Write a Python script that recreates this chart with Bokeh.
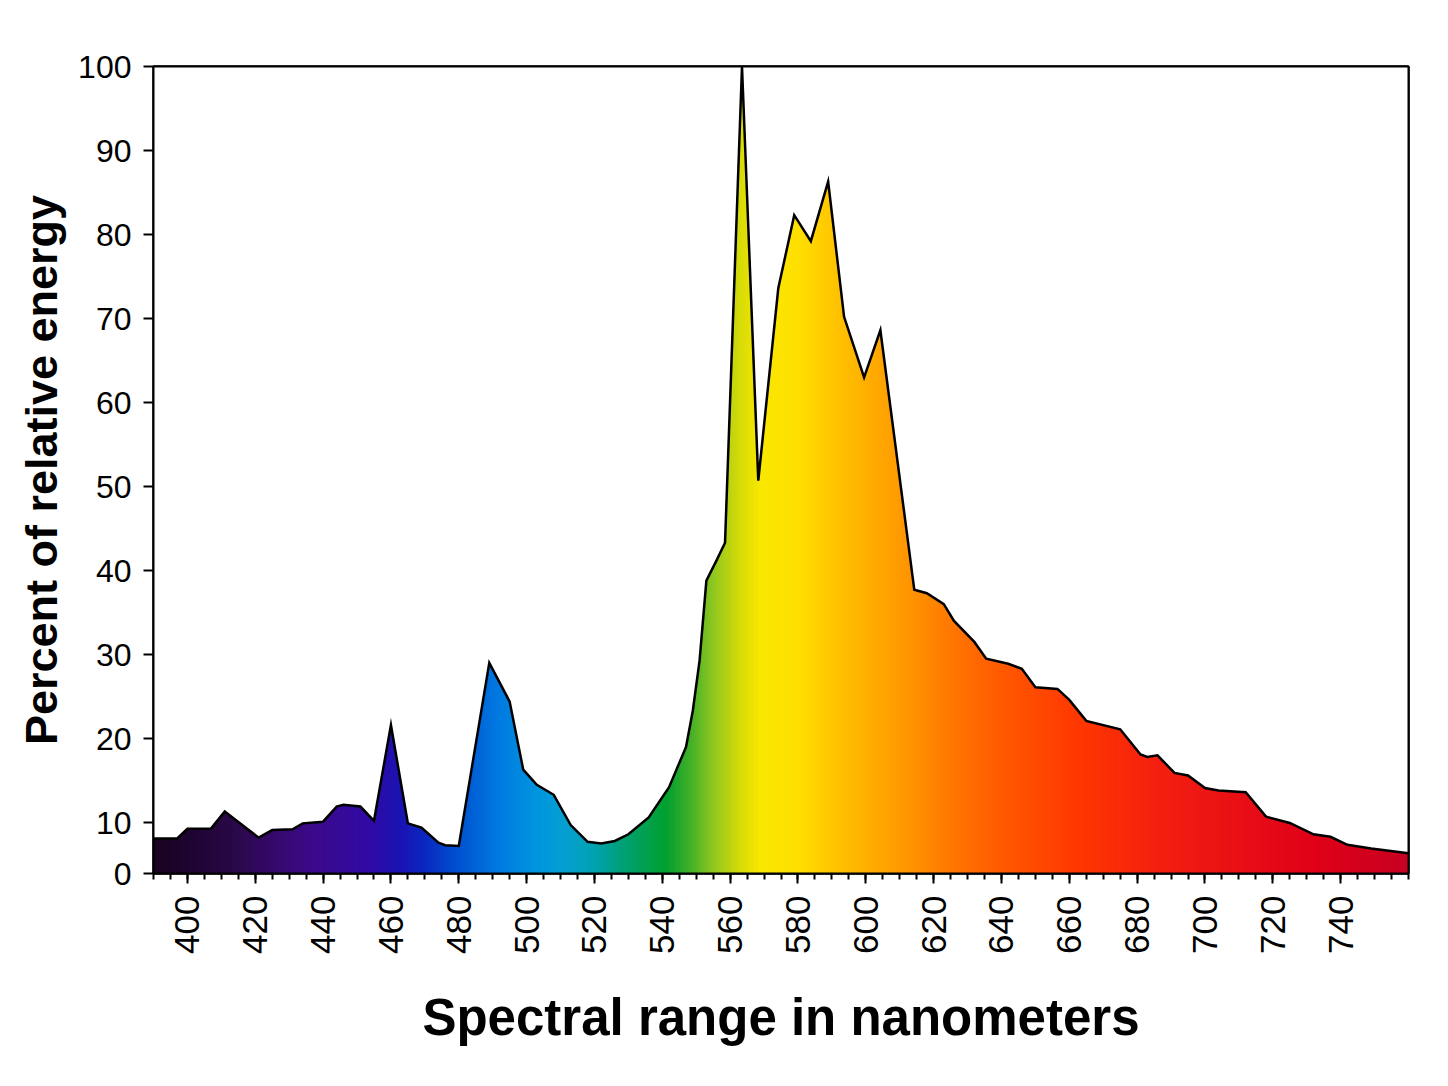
import math
import numpy as np
from bokeh.plotting import figure
from bokeh.models import FixedTicker, Range1d, LinearAxis
from bokeh.embed import file_html
from bokeh.resources import INLINE

# ---- data ----
wavelength = [390, 397, 400, 407, 411, 421, 425, 431, 434, 440, 444, 446, 451, 455,
              460, 465, 469, 474, 476, 480, 489, 495, 499, 503, 508, 513, 518, 522,
              526, 530, 536, 542, 547, 549, 551, 553, 556, 558.5, 563.5, 568.3,
              574.2, 578.9, 583.8, 588.9, 593.6, 599.5, 604.3, 614.3, 618, 623, 626,
              632, 635.5, 642, 646, 650, 656.5, 660, 665, 675, 681, 683, 686, 691,
              695, 700, 704, 712, 718, 725, 732, 737, 742, 749, 760]
energy = [8.1, 8.1, 9.25, 9.3, 11.3, 8.2, 9.1, 9.2, 9.9, 10.1, 11.9, 12.1, 11.9, 10.2,
          21.6, 9.9, 9.4, 7.6, 7.3, 7.2, 29.0, 24.4, 16.3, 14.5, 13.3, 9.7, 7.7, 7.5,
          7.8, 8.6, 10.6, 14.2, 19.0, 23.3, 29.3, 38.8, 41.2, 43.3, 100.0, 50.7,
          73.6, 82.3, 79.2, 86.3, 70.2, 63.0, 68.6, 37.7, 37.3, 36.0, 34.0,
          31.5, 29.5, 28.9, 28.3, 26.1, 25.9, 24.6, 22.1, 21.1, 18.1, 17.8, 18.0, 15.9,
          15.6, 14.1, 13.8, 13.6, 10.7, 9.95, 8.6, 8.3, 7.35, 6.9, 6.35]

x_ticks = list(range(400, 741, 20))
x_minor_ticks = list(range(390, 761, 5))
y_tick_values = [10, 20, 30, 40, 50, 60, 70, 80, 90, 100]

# ---- style: spectrum colour stops for the fill gradient ----
stop_nm = [390, 400, 413, 425, 437, 453, 463, 470, 479, 491, 503, 512, 520, 531,
           541, 548, 555, 563, 569, 580, 591, 603, 615, 628, 640, 662, 686, 709, 733, 760]
stop_hex = ["#1a0322", "#1e0430", "#2a0848", "#35096a", "#3c0a8c", "#320aa5", "#1a14b4",
            "#0a28c0", "#0050d0", "#0078e0", "#0096e0", "#05a0d0", "#00a2b0", "#00a065",
            "#00a030", "#40b028", "#90c820", "#d8dc08", "#fae800", "#ffe000", "#ffc400",
            "#ffaa00", "#ff9000", "#ff7200", "#ff5a00", "#ff3800", "#f52010", "#ea1015",
            "#e00018", "#c80022"]

X0, X1 = 390, 760
Y_BOTTOM, Y_TOP = 3.93, 100

p = figure(width=1440, height=1078, output_backend="svg", toolbar_location=None,
           x_range=Range1d(X0, X1), y_range=Range1d(Y_BOTTOM, Y_TOP),
           min_border_left=153, min_border_top=66, min_border_right=32,
           min_border_bottom=205)
p.background_fill_color = "white"
p.border_fill_color = "white"
p.xgrid.visible = False
p.ygrid.visible = False
p.outline_line_color = "black"
p.outline_line_width = 2.5
p.outline_line_alpha = 1.0

# gradient image
ncols = 1480
cols_nm = np.linspace(X0, X1, ncols)
rgb = np.array([[int(h[i:i + 2], 16) for i in (1, 3, 5)] for h in stop_hex], dtype=float)
r = np.interp(cols_nm, stop_nm, rgb[:, 0]).astype(np.uint32)
g = np.interp(cols_nm, stop_nm, rgb[:, 1]).astype(np.uint32)
b = np.interp(cols_nm, stop_nm, rgb[:, 2]).astype(np.uint32)
row = (255 << 24) | (b << 16) | (g << 8) | r
img = np.vstack([row, row]).astype(np.uint32)
p.image_rgba(image=[img], x=X0, y=Y_BOTTOM, dw=X1 - X0, dh=Y_TOP - Y_BOTTOM)

# white mask above the curve
p.varea(x=wavelength, y1=energy, y2=[Y_TOP] * len(wavelength), fill_color="white")
p.line(wavelength, energy, line_color="black", line_width=2.5, line_join="miter")

# frame lines on top and right (plain axes without ticks or labels)
for side in ("above", "right"):
    ax = LinearAxis(major_tick_out=0, major_tick_in=0, minor_tick_out=0,
                    minor_tick_in=0, major_label_text_font_size="0px",
                    major_label_standoff=0, axis_line_color="black",
                    axis_line_width=2)
    ax.ticker = FixedTicker(ticks=[])
    p.add_layout(ax, side)

# axes
xa = p.below[0]
xa.ticker = FixedTicker(ticks=x_ticks, minor_ticks=x_minor_ticks)
xa.major_label_orientation = math.pi / 2
xa.major_tick_out = 10
xa.major_tick_in = 0
xa.minor_tick_out = 6
xa.minor_tick_in = 0
xa.major_label_standoff = 12
xa.axis_label = "Spectral range in nanometers"
xa.axis_label_standoff = 32
xa.axis_label_text_font = "Liberation Sans"
xa.axis_label_text_font_style = "bold"
xa.axis_label_text_font_size = "51px"
xa.major_label_text_font = "Liberation Sans"
xa.major_label_text_font_size = "35px"

ya = p.left[0]
ya.ticker = FixedTicker(ticks=[Y_BOTTOM] + y_tick_values)
ya.major_label_overrides = {Y_BOTTOM: "0"}
ya.major_tick_out = 10
ya.major_tick_in = 0
ya.minor_tick_out = 0
ya.minor_tick_in = 0
ya.major_label_standoff = 12
ya.axis_label = "Percent of relative energy"
ya.axis_label_standoff = 8
ya.axis_label_text_font = "Liberation Sans"
ya.axis_label_text_font_style = "bold"
ya.axis_label_text_font_size = "45px"
ya.major_label_text_font = "Liberation Sans"
ya.major_label_text_font_size = "32px"

for ax in (xa, ya):
    ax.axis_line_color = "black"
    ax.axis_line_width = 2
    ax.major_tick_line_color = "black"
    ax.major_tick_line_width = 2
    ax.minor_tick_line_color = "black"
    ax.minor_tick_line_width = 2
    ax.major_label_text_color = "black"
    ax.axis_label_text_color = "black"

open("out.html", "w").write(file_html(p, INLINE))
